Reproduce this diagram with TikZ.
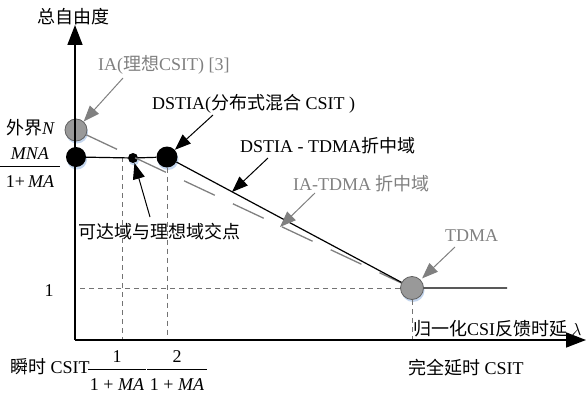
\documentclass[tikz,border=0pt]{standalone}
\usepackage{fontspec}
\setmainfont{Liberation Serif}
\newfontfamily\cjk{Noto Sans CJK SC}
\usetikzlibrary{arrows.meta}
\colorlet{labelGray}{black!50}
\colorlet{dotGray}{black!40}
\colorlet{dotBorder}{black!62}
\definecolor{haloBlue}{RGB}{196,214,238}
\tikzset{
axisline/.style={line width=1.6pt, -{Triangle[length=20pt, width=15pt]}},
curveline/.style={line width=1.2pt},
guide/.style={black!55, line width=0.8pt, dash pattern=on 5pt off 4pt},
iaguide/.style={black!50, line width=1.3pt, dash pattern=on 34pt off 20pt},
blackpt/.style={circle, inner sep=0pt, fill=black},
graypt/.style={circle, inner sep=0pt, fill=dotGray, draw=dotBorder, line width=0.8pt},
pointer/.style={line width=1pt, -{Triangle[length=16pt, width=12pt]}},
graypointer/.style={pointer, labelGray},
textstyle/.style={anchor=west, inner sep=0pt}
}
\newcommand{\zh}[1]{{\cjk #1}}
\newcommand{\csipt}[5]{
  \fill [haloBlue] (#2+1, #3+2.5) circle [radius=#4pt];
  \node [#5, minimum size={2*#4pt}] (#1) at (#2,#3) {};
}
\newcommand{\fracbar}[6]{
  \coordinate (bara#1) at (#2,#3);
  \coordinate (barb#1) at (#4,#3);
  \draw [line width=0.8pt] (bara#1) -- (barb#1);
  \node [inner sep=0pt] (num#1) at (#2/2+#4/2, #3-12) {#5};
  \node [inner sep=0pt] (den#1) at (#2/2+#4/2, #3+16) {#6};
}

\begin{document}
\begin{tikzpicture}[x=1pt, y=-1pt, font=\fontsize{18}{20}\selectfont]
\useasboundingbox (0,0) rectangle (587,396);

\coordinate (org) at (75,340);
\coordinate (ytip) at (75,25);
\coordinate (xtip) at (586,340);
\coordinate (xend) at (507,288);
\coordinate (crossv) at (122,157);

\csipt{ia}{76}{130}{11}{graypt}
\csipt{mna}{76}{157}{10}{blackpt}
\csipt{cross}{133}{158}{5}{blackpt}
\csipt{dstia}{167}{157}{10.5}{blackpt}
\csipt{tdma}{412}{288}{11.5}{graypt}

\draw [guide] (crossv) -- (crossv |- org);
\draw [guide] (dstia) -- (dstia |- org);
\draw [guide] (tdma) -- (tdma |- org);
\draw [guide] (tdma) -- (tdma -| org);

\draw [iaguide] (ia) -- (tdma);
\draw [curveline] (mna) -- (cross) -- (dstia) -- (tdma) -- (xend);

\draw [axisline] (org) -- (ytip);
\draw [axisline] (org) -- (xtip);

\coordinate (iatail) at (123,78);
\coordinate (dstiatail) at (213,115);
\coordinate (tradetail) at (268,158);
\coordinate (tradehit) at (232,192);
\coordinate (iatradetail) at (315,193);
\coordinate (iatradehit) at (280,227);
\coordinate (tdmatail) at (455,247);
\coordinate (crosstail) at (150,217);

\draw [graypointer] (iatail) -- (ia);
\draw [pointer] (dstiatail) -- (dstia);
\draw [pointer] (tradetail) -- (tradehit);
\draw [graypointer] (iatradetail) -- (iatradehit);
\draw [graypointer, shorten >=2pt] (tdmatail) -- (tdma);
\draw [pointer] (crosstail) -- (cross);

\node [textstyle] (ylab) at (37,17) {\zh{总自由度}};
\node [textstyle, labelGray] (ialab) at (98,65) {IA(\zh{理想}CSIT) [3]};
\node [textstyle] (dstialab) at (152,104) {DSTIA(\zh{分布式混合} CSIT )};
\node [textstyle] (tradelab) at (240,146) {DSTIA - TDMA\zh{折中域}};
\node [textstyle, labelGray] (iatradelab) at (293,184) {IA-TDMA \zh{折中域}};
\node [textstyle, labelGray] (tdmalab) at (445,236) {TDMA};
\node [textstyle] (crosslab) at (78,232) {\zh{可达域与理想域交点}};
\node [textstyle] (delaylab) at (413,329) {\zh{归一化}CSI\zh{反馈时延} $\lambda$};
\node [textstyle] (fulllab) at (408,368) {\zh{完全延时} CSIT};
\node [textstyle] (instlab) at (10,367) {\zh{瞬时} CSIT};
\node [textstyle] (outerlab) at (6,128) {\zh{外界}\textit{N}};
\node [inner sep=0pt] (onelab) at (49,291) {1};

\fracbar{m}{0}{166}{60}{\textit{MNA}}{1+\,\textit{MA}}
\fracbar{a}{88}{369}{146}{1}{1 + \textit{MA}}
\fracbar{b}{147}{369}{207}{2}{1 + \textit{MA}}

\end{tikzpicture}
\end{document}
